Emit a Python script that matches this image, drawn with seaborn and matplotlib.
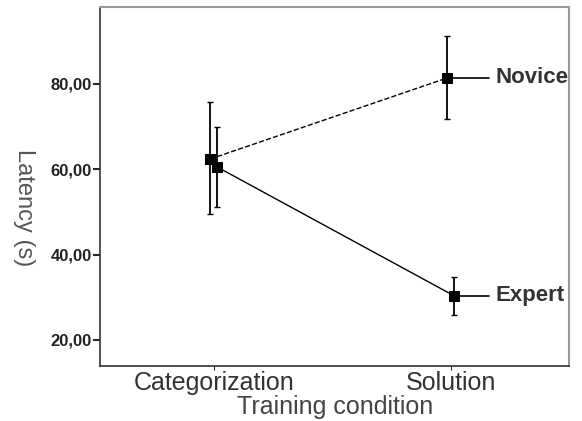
import numpy as np
import pandas as pd
import seaborn as sns
import matplotlib.pyplot as plt

sns.set_style("white")
plt.rcParams['font.family'] = ['Liberation Sans', 'DejaVu Sans']

conditions = ['Categorization', 'Solution']
groups = ['Novice', 'Expert']
novice_mean = [62.4, 81.4]
novice_low = [49.5, 71.8]
novice_high = [75.8, 91.3]
expert_mean = [60.5, 30.3]
expert_low = [51.2, 25.9]
expert_high = [69.9, 34.8]
yticks = [20, 40, 60, 80]
ytick_labels = ['20,00', '40,00', '60,00', '80,00']

df = pd.DataFrame({
    'condition': conditions * 2,
    'group': ['Novice'] * 2 + ['Expert'] * 2,
    'latency': novice_mean + expert_mean,
    'low': novice_low + expert_low,
    'high': novice_high + expert_high,
})

fig = plt.figure(figsize=(5.82, 4.21), dpi=100)
ax = fig.add_axes([0.172, 0.131, 0.806, 0.852])

sns.pointplot(data=df, x='condition', y='latency', hue='group', hue_order=groups,
              palette=['black', 'black'], markers=['s', 's'], linestyles=['--', '-'],
              dodge=0.03, errorbar=None, markersize=7, linewidth=1.0, ax=ax, legend=False)

# error bars at the same dodged positions
for line, g in zip(ax.lines[:2], groups):
    xs = line.get_xdata()
    sub = df[df.group == g]
    m = sub.latency.values
    err = [m - sub.low.values, sub.high.values - m]
    ax.errorbar(xs, m, yerr=err, fmt='none', ecolor='black', elinewidth=1.3, capsize=2.5, capthick=1.0)
    # label line from last point
    ax.plot([xs[-1], 1.16], [m[-1], m[-1]], color='black', lw=1.2)
    ax.text(1.19, m[-1], g, fontsize=16, fontweight='semibold', va='center', ha='left',
            color='#333333', clip_on=False)

ax.set_xlim(-0.48, 1.50)
ax.set_ylim(13.9, 98)
ax.set_yticks(yticks)
ax.set_yticklabels(ytick_labels, fontsize=12, fontweight='bold', color='#222222')
ax.tick_params(axis='y', direction='out', length=5, width=1.5, left=True, pad=1)
ax.tick_params(axis='x', direction='out', length=3, bottom=True, labelsize=18, labelcolor='#333333', pad=1)

ax.set_xlabel('Training condition', fontsize=18, color='#444444', labelpad=0)
ax.set_ylabel('Latency (s)', fontsize=17, color='#555555', rotation=-90)
ax.yaxis.set_label_coords(-0.185, 0.44)

for s in ['left', 'bottom']:
    ax.spines[s].set_color('#333333')
    ax.spines[s].set_linewidth(1.2)
for s in ['top', 'right']:
    ax.spines[s].set_color('#999999')
    ax.spines[s].set_linewidth(1.5)

fig.savefig('out.png', dpi=100)
